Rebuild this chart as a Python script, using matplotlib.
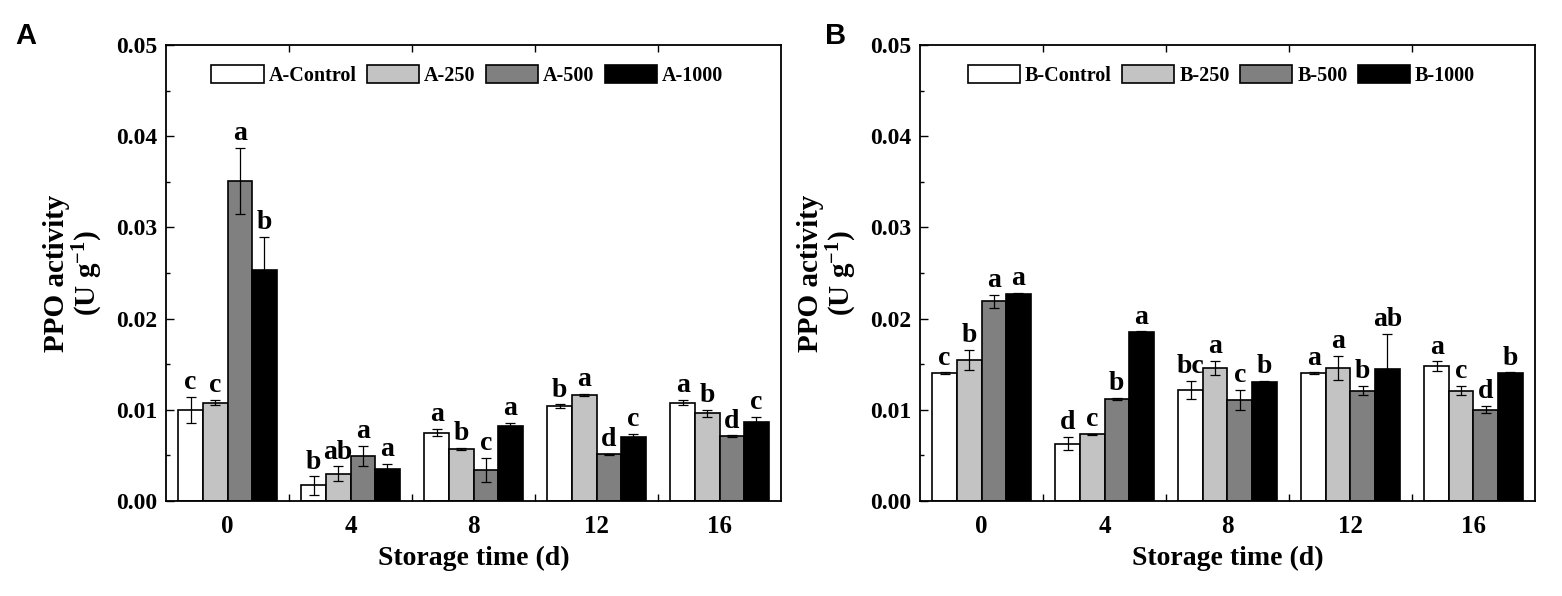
import matplotlib
matplotlib.use('Agg')
import matplotlib.pyplot as plt
import numpy as np
from matplotlib.ticker import MultipleLocator, FixedLocator

plt.rcParams['font.family'] = ['Liberation Serif', 'DejaVu Serif']
plt.rcParams['font.weight'] = 'bold'
plt.rcParams['mathtext.fontset'] = 'custom'
plt.rcParams['mathtext.rm'] = 'Liberation Serif:bold'
plt.rcParams['mathtext.bf'] = 'Liberation Serif:bold'
plt.rcParams['mathtext.default'] = 'bf'

days = ['0', '4', '8', '12', '16']

# panel A
a_names = ['A-Control', 'A-250', 'A-500', 'A-1000']
a_mean = [
    [0.0100, 0.0017, 0.0075, 0.0104, 0.0108],
    [0.0108, 0.0030, 0.0057, 0.0116, 0.0096],
    [0.0351, 0.0049, 0.0034, 0.0051, 0.0071],
    [0.0253, 0.0035, 0.0082, 0.0070, 0.0087],
]
a_err = [
    [0.0014, 0.0010, 0.0004, 0.0002, 0.0003],
    [0.0003, 0.0008, 0.0001, 0.0001, 0.0004],
    [0.0036, 0.0011, 0.0013, 0.0001, 0.0001],
    [0.0037, 0.0006, 0.0004, 0.0004, 0.0005],
]
a_letters = [
    ['c', 'b', 'a', 'b', 'a'],
    ['c', 'ab', 'b', 'a', 'b'],
    ['a', 'a', 'c', 'd', 'd'],
    ['b', 'a', 'a', 'c', 'c'],
]

# panel B
b_names = ['B-Control', 'B-250', 'B-500', 'B-1000']
b_mean = [
    [0.0140, 0.0063, 0.0122, 0.0140, 0.0148],
    [0.0155, 0.0073, 0.0146, 0.0146, 0.0121],
    [0.0219, 0.0112, 0.0111, 0.0121, 0.0100],
    [0.0227, 0.0185, 0.0131, 0.0145, 0.0140],
]
b_err = [
    [0.0001, 0.0007, 0.0010, 0.0001, 0.0005],
    [0.0011, 0.0001, 0.0008, 0.0013, 0.0005],
    [0.0007, 0.0001, 0.0011, 0.0005, 0.0004],
    [0.0001, 0.0001, 0.0001, 0.0038, 0.0001],
]
b_letters = [
    ['c', 'd', 'bc', 'a', 'a'],
    ['b', 'c', 'a', 'a', 'c'],
    ['a', 'b', 'c', 'b', 'd'],
    ['a', 'a', 'b', 'ab', 'b'],
]

colors = ['white', '#c3c3c3', '#808080', 'black']
w = 0.2
x = np.arange(len(days))

fig = plt.figure(figsize=(15.62, 5.96), dpi=100)
axA = fig.add_axes([0.1063, 0.1594, 0.3937, 0.765])
axB = fig.add_axes([0.589, 0.1594, 0.3937, 0.765])


def draw(ax, names, means, errs, letters):
    for i in range(4):
        pos = x + (i - 1.5) * w
        ax.bar(pos, means[i], w, color=colors[i], edgecolor='black',
               linewidth=1.2, label=names[i])
        ax.errorbar(pos, means[i], yerr=errs[i], fmt='none', ecolor='black',
                    elinewidth=0.9, capsize=3.5, capthick=0.9)
        for j in range(len(days)):
            ax.text(pos[j], means[i][j] + errs[i][j] + 0.0002, letters[i][j],
                    ha='center', va='bottom', fontsize=20, fontweight='bold')
    ax.set_xlim(-0.5, 4.5)
    ax.set_ylim(0, 0.05)
    ax.set_xticks(x)
    ax.set_xticklabels(days)
    ax.xaxis.set_minor_locator(FixedLocator([0.5, 1.5, 2.5, 3.5]))
    ax.tick_params(axis='x', which='major', length=0, pad=10, labelsize=18)
    ax.tick_params(axis='x', which='minor', direction='in', length=5,
                   top=True, bottom=True, width=1)
    ax.yaxis.set_major_locator(MultipleLocator(0.01))
    ax.yaxis.set_minor_locator(MultipleLocator(0.005))
    ax.yaxis.set_major_formatter(plt.FormatStrFormatter('%.2f'))
    ax.tick_params(axis='y', which='major', direction='in', length=6,
                   width=1, labelsize=17, pad=6)
    ax.tick_params(axis='y', which='minor', direction='in', length=3, width=1)
    for s in ax.spines.values():
        s.set_linewidth(1.3)
    ax.set_xlabel('Storage time (d)', fontsize=20, fontweight='bold', labelpad=6)
    ax.set_ylabel('PPO activity\n(U g$^{-1}$)', fontsize=21,
                  fontweight='bold', labelpad=8, linespacing=1.05)
    ax.legend(loc='upper center', ncol=4, frameon=False,
              handlelength=2.6, handleheight=1.0, columnspacing=0.5,
              handletextpad=0.25, bbox_to_anchor=(0.49, 0.995),
              prop={'weight': 'bold', 'size': 14.5})


draw(axA, a_names, a_mean, a_err, a_letters)
draw(axB, b_names, b_mean, b_err, b_letters)

fig.text(15 / 1562, 1 - 22 / 596, 'A', fontsize=21, fontweight='bold',
         family=['Liberation Sans', 'DejaVu Sans'], ha='left', va='top')
fig.text(825 / 1562, 1 - 22 / 596, 'B', fontsize=21, fontweight='bold',
         family=['Liberation Sans', 'DejaVu Sans'], ha='left', va='top')

fig.savefig('out.png', dpi=100)
